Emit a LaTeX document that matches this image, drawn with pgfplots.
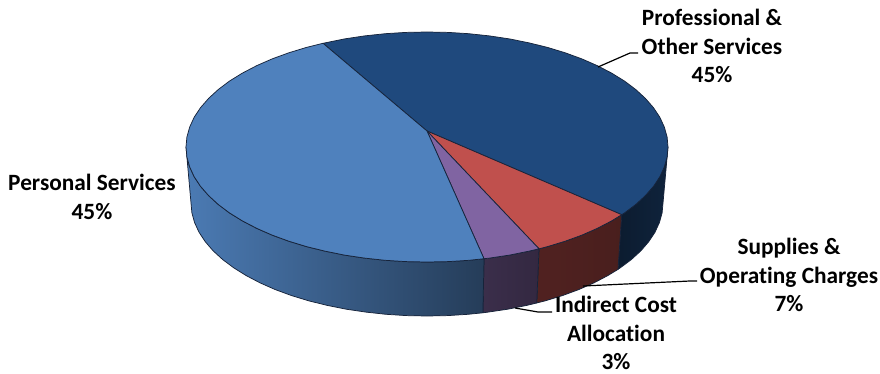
\documentclass[border=0pt]{standalone}
\usepackage{fontspec}
\setmainfont[Ligatures=NoCommon]{Carlito}
\usepackage{pgfplots}
\pgfplotsset{compat=1.18}
\definecolor{pBlue}{HTML}{4F81BD}
\definecolor{pNavy}{HTML}{1F497D}
\definecolor{pRed}{HTML}{C0504D}
\definecolor{pPurple}{HTML}{8064A2}
\definecolor{edge}{HTML}{16233A}
\tikzset{lbl/.style={font=\bfseries\fontsize{17.5}{21.6}\selectfont,align=center,text=black,inner sep=0pt}}
\begin{document}
\begin{tikzpicture}[x=1pt,y=1pt]
\useasboundingbox (0,0) rectangle (660,280.5);
\begin{axis}[
  at={(0,0)},anchor=south west,
  scale only axis,width=660pt,height=280.5pt,
  xmin=0,xmax=880,ymin=0,ymax=374,y dir=reverse,
  axis lines=none,clip=false,
  every axis plot/.append style={line width=0.55pt,line join=round,mark=none},
]
% rim of the cylinder, one face per slice
\addplot[draw=edge,left color=pNavy!38!black,right color=pNavy!48!black] coordinates {
 (668,147)(667.1,157)(664.3,167)(659.8,176.8)(653.5,186.3)(645.4,195.6)(635.7,204.5)(624.4,213)(621.7,214.7)
 (618,269.4)(620.3,267.8)(631.4,259.5)(640.9,250.8)(648.8,241.6)(655,232.2)(659.4,222.6)(662.1,212.9)(663,203)} --cycle;
\addplot[draw=edge,left color=pRed!42!black,right color=pRed!38!black] coordinates {
 (621.7,214.7)(611.6,220.9)(597.4,228.3)(581.9,235.1)(565.2,241.2)(547.5,246.6)(539,248.8)
 (536.7,303)(545,300.9)(562.4,295.6)(578.7,289.6)(593.9,282.9)(607.8,275.6)(618,269.4)} --cycle;
\addplot[draw=edge,left color=pPurple!46!black,right color=pPurple!40!black] coordinates {
 (539,248.8)(528.8,251.2)(509.4,255.1)(489.4,258.1)(484,258.7)
 (482.9,312.8)(488.1,312.1)(507.7,309.2)(526.7,305.4)(536.7,303)} --cycle;
\addplot[draw=edge,left color=pBlue!95!black,right color=pBlue!47!black] coordinates {
 (484,258.7)(468.8,260.3)(448,261.6)(427,262)(406,261.6)(385.2,260.3)(364.6,258.1)(344.6,255.1)(325.2,251.2)
 (306.5,246.6)(288.8,241.2)(272.1,235.1)(256.6,228.3)(242.4,220.9)(229.6,213)(218.3,204.5)(208.6,195.6)
 (200.5,186.3)(194.2,176.8)(189.7,167)(186.9,157)(186,147)
 (191,203)(191.9,212.9)(194.6,222.6)(199,232.2)(205.2,241.6)(213.1,250.8)(222.6,259.5)(233.7,267.8)
 (246.2,275.6)(260.1,282.9)(275.3,289.6)(291.6,295.6)(309,300.9)(327.3,305.4)(346.3,309.2)(365.9,312.1)
 (386,314.3)(406.4,315.6)(427,316)(447.6,315.6)(468,314.3)(482.9,312.8)} --cycle;
% top face, one wedge per slice
\addplot[draw=edge,fill=pNavy] coordinates {
 (427,131)(323,43.3)(344.6,38.9)(364.6,35.9)(385.2,33.7)(406,32.4)(427,32)(448,32.4)(468.8,33.7)(489.4,35.9)
 (509.4,38.9)(528.8,42.8)(547.5,47.4)(565.2,52.8)(581.9,58.9)(597.4,65.7)(611.6,73.1)(624.4,81)(635.7,89.5)
 (645.4,98.4)(653.5,107.7)(659.8,117.2)(664.3,127)(667.1,137)(668,147)(667.1,157)(664.3,167)(659.8,176.8)
 (653.5,186.3)(645.4,195.6)(635.7,204.5)(624.4,213)(621.7,214.7)} --cycle;
\addplot[draw=edge,fill=pRed] coordinates {
 (427,131)(621.7,214.7)(611.6,220.9)(597.4,228.3)(581.9,235.1)(565.2,241.2)(547.5,246.6)(539,248.8)} --cycle;
\addplot[draw=edge,fill=pPurple] coordinates {
 (427,131)(539,248.8)(528.8,251.2)(509.4,255.1)(489.4,258.1)(484,258.7)} --cycle;
\addplot[draw=edge,fill=pBlue] coordinates {
 (427,131)(484,258.7)(468.8,260.3)(448,261.6)(427,262)(406,261.6)(385.2,260.3)(364.6,258.1)(344.6,255.1)
 (325.2,251.2)(306.5,246.6)(288.8,241.2)(272.1,235.1)(256.6,228.3)(242.4,220.9)(229.6,213)(218.3,204.5)
 (208.6,195.6)(200.5,186.3)(194.2,176.8)(189.7,167)(186.9,157)(186,147)(186.9,137)(189.7,127)(194.2,117.2)
 (200.5,107.7)(208.6,98.4)(218.3,89.5)(229.6,81)(242.4,73.1)(256.6,65.7)(272.1,58.9)(288.8,52.8)(306.5,47.4)(323,43.3)} --cycle;
% leader lines
\addplot[draw=black,line width=0.9pt] coordinates {(598,67)(630,53)(638,53)};
\addplot[draw=black,line width=0.9pt] coordinates {(583,286)(690,281)(697,281)};
\addplot[draw=black,line width=0.9pt] coordinates {(515,308)(538,312)(552,312)};
% slice labels
\node[lbl] at (axis cs:712,46) {Professional \&\\Other Services\\45\%};
\node[lbl] at (axis cs:92,197) {Personal Services\\45\%};
\node[lbl] at (axis cs:789,275) {Supplies \&\\Operating Charges\\7\%};
\node[lbl] at (axis cs:616,333) {Indirect Cost\\Allocation\\3\%};
\end{axis}
\end{tikzpicture}
\end{document}
